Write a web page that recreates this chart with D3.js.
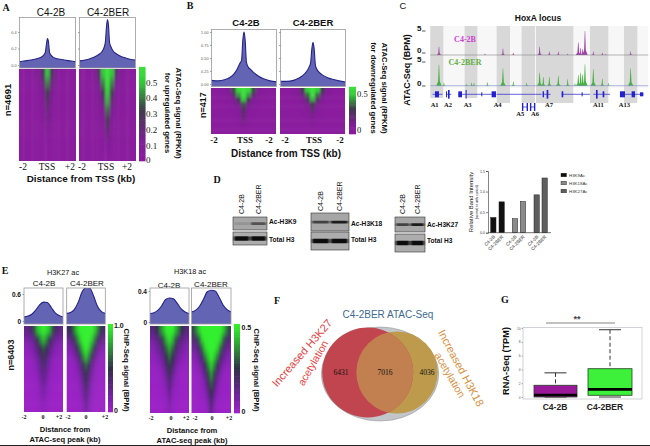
<!DOCTYPE html>
<html><head><meta charset="utf-8">
<script src="https://cdn.jsdelivr.net/npm/d3@7"></script>
<style>html,body{margin:0;padding:0;background:#fff;overflow:hidden}svg{display:block}</style>
</head><body>
<script>
// ---------- DATA ----------
const samples = ["C4-2B", "C4-2BER"];
// TSS profile panels (A, B)
const tssPos = [-2,-1.6,-1.2,-0.9,-0.6,-0.4,-0.25,-0.15,-0.07,0,0.07,0.15,0.25,0.4,0.6,0.9,1.2,1.6,2];
const profA1 = [.04,.05,.06,.07,.085,.10,.125,.16,.26,.32,.28,.15,.12,.095,.08,.07,.06,.05,.04];
const profA2 = [.05,.06,.08,.10,.13,.16,.21,.28,.47,.55,.48,.27,.22,.17,.14,.11,.09,.07,.06];
const profB1 = [.07,.06,.08,.12,.20,.30,.40,.46,.85,1.0,.85,.42,.33,.28,.22,.15,.10,.06,.04];
const profB2 = [.05,.05,.07,.11,.17,.24,.32,.40,.68,.80,.68,.36,.28,.22,.17,.12,.09,.06,.04];
// ATAC-peak profile panels (E)
const peakPos = [-2,-1.6,-1.2,-0.8,-0.4,0,0.4,0.8,1.2,1.6,2];
const profE1 = [.09,.11,.15,.24,.36,.42,.41,.30,.18,.12,.09];
const profE2 = [.17,.19,.26,.42,.65,.74,.73,.55,.32,.21,.17];
const profE3 = [.11,.12,.15,.21,.29,.31,.30,.24,.17,.13,.11];
const profE4 = [.13,.15,.20,.29,.39,.41,.40,.32,.22,.16,.13];
// Heat maps: % of colour-bar maximum; rows top to bottom, columns from centre to edge
const heatOffsets = [0,0.33,0.67,1,1.33,1.67,2];
const heatA1 = [[85,45,18,8,5,3,2],[70,32,10,5,3,2,2],[55,20,6,3,2,2,1],[40,12,4,2,2,1,1],[30,8,3,2,1,1,1],[24,6,2,1,1,1,1],[16,4,2,1,1,1,1],[8,3,1,1,1,1,1],[4,2,1,1,1,1,1],[2,1,1,1,1,1,1]];
const heatA2 = [[100,85,40,12,6,4,3],[100,70,25,8,5,3,2],[90,50,15,6,3,2,2],[80,32,10,4,2,2,1],[65,20,6,3,2,1,1],[50,12,4,2,1,1,1],[36,8,3,1,1,1,1],[24,5,2,1,1,1,1],[14,3,1,1,1,1,1],[6,2,1,1,1,1,1]];
const heatB1 = [[100,95,60,20,8,4,3],[100,75,35,12,6,3,2],[85,50,20,8,4,3,2],[60,25,10,5,3,2,2],[45,14,5,3,2,2,1],[35,8,3,2,2,1,1],[30,6,3,2,1,1,1],[22,4,2,1,1,1,1],[10,3,2,1,1,1,1],[3,2,1,1,1,1,1]];
const heatB2 = [[100,88,50,16,7,4,3],[100,65,28,10,5,3,2],[80,42,16,6,4,3,2],[55,22,9,4,3,2,2],[38,12,5,3,2,2,1],[26,7,3,2,2,1,1],[18,5,2,2,1,1,1],[10,3,2,1,1,1,1],[5,2,1,1,1,1,1],[2,1,1,1,1,1,1]];
const heatE1 = [[100,95,85,60,40,32,28],[85,72,50,32,22,18,16],[60,48,32,20,12,9,7],[45,36,22,12,7,5,4],[35,26,14,7,4,3,2],[28,20,9,4,3,2,2],[22,14,6,3,2,1,1],[15,9,4,2,1,1,1],[10,6,3,1,1,1,1],[6,4,2,1,1,1,1]];
const heatE2 = [[100,100,100,90,70,50,42],[100,100,90,68,45,32,25],[100,90,68,45,25,16,12],[88,70,45,25,12,7,5],[62,46,25,12,6,4,3],[48,34,16,7,4,3,2],[40,26,10,4,3,2,2],[34,18,7,3,2,1,1],[26,12,4,2,1,1,1],[18,8,3,1,1,1,1]];
const heatE3 = [[100,100,85,70,50,38,30],[95,85,60,40,30,22,18],[80,65,42,28,20,14,10],[65,50,30,18,12,8,6],[52,38,20,10,6,4,3],[42,26,12,5,3,3,2],[32,16,7,4,2,2,2],[24,10,4,2,2,1,1],[16,6,3,2,1,1,1],[10,4,2,1,1,1,1]];
const heatE4 = [[100,100,100,100,90,70,55],[100,100,100,92,62,42,35],[100,100,92,65,40,26,20],[100,90,70,42,24,14,10],[90,72,48,24,12,8,5],[75,55,30,14,6,4,3],[62,40,18,7,4,3,2],[50,28,10,4,3,2,2],[40,16,5,3,2,1,1],[30,8,3,2,1,1,1]];
// Panel C: locus positions, BPM heights
const locusBands = [[121,160,98],[224,262,98],[320,360,103],[395,435,103],[438,550,103],[600,655,103],[702,742,103]];
const peaks2B = [[147,1.9],[285,.3],[339,1.5],[370,.5],[449,1.9],[478,.8],[505,.8],[533,.3],[565,2.9],[572,1.6],[578,1.4],[585,5.6],[610,.8],[637,.5],[647,.2],[722,.8]];
const peaksBER = [[147,4.9],[162,.7],[230,.4],[245,.7],[252,.6],[292,.8],[339,4],[370,1],[410,.7],[449,3],[460,2],[478,2],[505,2.3],[533,1.5],[555,.5],[565,2.5],[572,3],[578,2.6],[585,5],[610,3.8],[637,1.6],[655,.6],[722,4]];
const geneLines = [[128,158],[168,184],[205,315],[320,455],[458,482],[515,600],[610,660],[690,760]];
const geneExons = [[135,12,18],[168,3,18],[174,5,26],[205,11,18],[227,3,26],[274,3,12],[305,13,18],[458,4,18],[470,5,26],[515,5,18],[575,3,12],[618,5,26],[638,5,18],[690,15,18],[725,10,18],[750,10,12]];
const geneNames = ["A1","A2","A3","A4","A7","A11","A13"];
const geneNameX = [134,174,233,323,477,625,703];
const geneNames2 = ["A5","A6"];
const geneName2X = [391,435];
const geneLower = [[398,412],[422,434]];
// Panel D
const blotLanes = ["C4-2B","C4-2BER"];
const blotK9 = [.12,.55];
const blotK18 = [.65,.9];
const blotK27 = [.65,.9];
const blotH3 = [1,1];
const barLabels = ["C4-2B","C4-2BER","C4-2B","C4-2BER","C4-2B","C4-2BER"];
const barValues = [.37,.75,.34,.76,.92,1.33];
const barGroup = [0,0,1,1,2,2];
const barTicks = [0,0.5,1.0,1.5];
const marks = ["H3K9Ac","H3K18Ac","H3K27Ac"];
// Panel F
const vennCounts = [6431,7016,4036];
// Panel G
const boxLabels = ["C4-2B","C4-2BER"];
const boxQ1 = [0,.25];
const boxMed = [.3,1.1];
const boxQ3 = [1.7,4.1];
const boxLo = [0,0];
const boxHi = [3.5,9.75];
const boxFill = ["#9a189a","#3df03a"];
const boxTicks = [0,2,4,6,8,10];

// ---------- HELPERS ----------
const W = 650, H = 446;
const svg = d3.select("body").append("svg").attr("width",W).attr("height",H).attr("viewBox",`0 0 ${W} ${H}`);
const defs = svg.append("defs");
const SANS = "'Liberation Sans',Arial,sans-serif", SERIF = "'Liberation Serif',serif";
function t(x,y,s,o={}){
  const el = svg.append("text").attr("x",0).attr("y",0).attr("dy",".35em")
   .attr("transform",`translate(${x},${y}) rotate(${o.rot||0})`)
   .attr("font-family",o.family||SANS).attr("font-size",o.size||8)
   .attr("font-weight",o.weight||"normal").attr("text-anchor",o.anchor||"middle")
   .attr("fill",o.fill||"#111").text(s);
  return el;
}
let clipId = 0;
function clip(x,y,w,h){
  const id = "c"+(clipId++);
  defs.append("clipPath").attr("id",id).append("rect").attr("x",x).attr("y",y).attr("width",w).attr("height",h);
  return `url(#${id})`;
}
function blurFilter(id,sx,sy){
  defs.append("filter").attr("id",id).attr("x","-20%").attr("y","-20%").attr("width","140%").attr("height","140%")
    .append("feGaussianBlur").attr("stdDeviation",`${sx} ${sy}`);
}
blurFilter("heatBlurA",1.2,3.2);
blurFilter("heatBlurB",1.3,1.6);
blurFilter("heatBlurE",1.1,3.2);
blurFilter("band",0.8,0.6);

function profile(xs,vals,box,yDomain,yRange,ticks,fmt,labelled,tickFont){
  const x = d3.scaleLinear().domain([-2,2]).range([box.x,box.x+box.w]);
  const y = d3.scaleLinear().domain(yDomain).range(yRange);
  const pts = xs.map((d,i)=>[d,vals[i]]);
  const g = svg.append("g").attr("clip-path",clip(box.x,box.y,box.w,box.h));
  g.append("path").attr("d",d3.area().x(d=>x(d[0])).y0(box.y+box.h).y1(d=>y(d[1])).curve(d3.curveMonotoneX)(pts)).attr("fill","#6464b4");
  g.append("path").attr("d",d3.line().x(d=>x(d[0])).y(d=>y(d[1])).curve(d3.curveMonotoneX)(pts)).attr("fill","none").attr("stroke","#23238a").attr("stroke-width",1.1);
  svg.append("rect").attr("x",box.x).attr("y",box.y).attr("width",box.w).attr("height",box.h).attr("fill","none").attr("stroke","#9a9a9a").attr("stroke-width",.8);
  const ax = svg.append("g").attr("transform",`translate(${box.x},0)`)
    .call(d3.axisLeft(y).tickValues(ticks).tickFormat(labelled?fmt:"").tickSize(1.5).tickPadding(1.5));
  ax.select(".domain").remove();
  ax.selectAll("line").attr("stroke","#555").attr("stroke-width",.5);
  ax.selectAll("text").attr("font-family",tickFont?tickFont.family:SANS).attr("font-size",tickFont?tickFont.size:3.8)
    .attr("font-weight",tickFont?tickFont.weight:"normal").attr("fill",tickFont?"#111":"#555");
}
function heat(matrix,box,colour,filter){
  const mirrored = heatOffsets.slice(1).reverse().map(d=>-d).concat(heatOffsets);
  const colIdx = mirrored.map(d=>Math.abs(d));
  const x = d3.scaleBand().domain(d3.range(mirrored.length)).range([box.x,box.x+box.w]);
  const y = d3.scaleBand().domain(d3.range(matrix.length)).range([box.y,box.y+box.h]);
  const g = svg.append("g").attr("clip-path",clip(box.x,box.y,box.w,box.h)).append("g").attr("filter",`url(#${filter})`);
  const ext = 8;
  matrix.forEach((row,r)=>{
    g.selectAll(null).data(mirrored).enter().append("rect")
      .attr("x",(d,i)=>x(i)-(i===0?ext:0))
      .attr("y",y(r)-(r===0?ext:0))
      .attr("width",(d,i)=>x.bandwidth()+.4+((i===0||i===mirrored.length-1)?ext:0))
      .attr("height",y.bandwidth()+.4+((r===0||r===matrix.length-1)?ext:0))
      .attr("fill",(d,i)=>colour(row[heatOffsets.indexOf(colIdx[i])]));
  });
}
function colourBar(box,colour){
  const lvls = d3.range(0,101,2);
  const y = d3.scaleLinear().domain([0,100]).range([box.y+box.h,box.y]);
  svg.append("g").selectAll("rect").data(lvls).enter().append("rect")
    .attr("x",box.x).attr("width",box.w).attr("y",d=>y(d)-box.h/50-.3).attr("height",box.h/50+.6).attr("fill",d=>colour(d));
}
const colourAB = d3.scaleLinear().domain([0,20,55,85,100]).range(["#8b1a9e","#7f1f96","#3f3c4a","#35c83a","#3ce03c"]).clamp(true);
const colourE = d3.scaleLinear().domain([0,15,50,88,100]).range(["#9e20c8","#7a20a8","#2f3048","#2ec82e","#33f02e"]).clamp(true);

// ---------- PANEL A ----------
t(6,7,"A",{family:SERIF,weight:"bold",size:10});
t(51,12,samples[0],{size:10});t(108,12,samples[1],{size:10});
const boxA = [{x:19.5,y:17.5,w:56,h:50.5},{x:79.5,y:17.5,w:56,h:50.5}];
profile(tssPos,profA1,boxA[0],[0,.4],[65,32],[0,.2,.4],d3.format(".1f"),true);
profile(tssPos,profA2,boxA[1],[0,.4],[65,32],[0,.2,.4],d3.format(".1f"),false);
heat(heatA1,{x:19,y:69,w:57,h:92},colourAB,"heatBlurA");
heat(heatA2,{x:79,y:69,w:57,h:92},colourAB,"heatBlurA");
colourBar({x:139,y:69,w:6.5,h:92},colourAB);
[["0.5",83],["0.4",98],["0.3",114],["0.2",130],["0.1",146],["0",160]].forEach(d=>t(146,d[1],d[0],{family:SERIF,size:9,anchor:"start"}));
t(179,113,"ATAC-Seq signal (RPKM)",{rot:90,size:7.7,weight:"bold"});
t(168,113,"for upregulated genes",{rot:90,size:7.7,weight:"bold"});
t(8,100,"n=4691",{rot:-90,size:9.5,weight:"bold"});
[[23,"-2"],[47,"TSS"],[70,"+2"],[82,"-2"],[106,"TSS"],[127,"+2"]].forEach(d=>t(d[0],167,d[1],{family:SERIF,size:9.5}));
t(81,179,"Distance from TSS (kb)",{size:9.9,weight:"bold"});

// ---------- PANEL B ----------
t(190,5,"B",{family:SERIF,weight:"bold",size:10});
t(246,23,samples[0],{size:9.5,weight:"bold"}); t(313,23,samples[1],{size:9.5,weight:"bold"});
const boxB = [{x:211.5,y:29.5,w:65,h:57},{x:280.5,y:29.5,w:65,h:57}];
profile(tssPos,profB1,boxB[0],[0,1],[84,32],[0,.25,.5,.75,1],d3.format(".2f"),true);
profile(tssPos,profB2,boxB[1],[0,1],[84,32],[0,.25,.5,.75,1],d3.format(".2f"),false);
heat(heatB1,{x:211,y:88,w:65,h:46},colourAB,"heatBlurB");
heat(heatB2,{x:280,y:88,w:65,h:46},colourAB,"heatBlurB");
colourBar({x:349,y:88,w:7,h:46},colourAB);
t(357,94,"0.5",{family:SERIF,size:8.5,anchor:"start"}); t(357,130,"0",{family:SERIF,size:8.5,anchor:"start"});
t(385,88,"ATAC-Seq signal (RPKM)",{rot:90,size:7.7,weight:"bold"});
t(374,88,"for downregulated genes",{rot:90,size:7.7,weight:"bold"});
t(203,105,"n=417",{rot:-90,size:9,weight:"bold"});
[[214,"-2"],[245,"TSS"],[269,"-2"],[285,"-2"],[314,"TSS"],[340,"-2"]].forEach(d=>t(d[0],140,d[1],{family:SERIF,size:9,weight:"bold"}));
t(286,153,"Distance from TSS (kb)",{size:10,weight:"bold"});

// ---------- PANEL C ----------
t(403,6,"C",{size:9.5});
t(538,18,"HoxA locus",{size:8.5,weight:"bold"});
const locus = d3.scaleLinear().domain([121,775]).range([430.3,648.3]);
svg.append("rect").attr("x",locus(121)).attr("y",26).attr("width",locus(775)-locus(121)).attr("height",62).attr("fill","#f7f7f7");
svg.append("g").selectAll("rect").data(locusBands).enter().append("rect")
  .attr("x",d=>locus(d[0])).attr("width",d=>locus(d[1])-locus(d[0])).attr("y",26).attr("height",d=>d[2]-26).attr("fill","#d8d8d8");
function track(peaks,base,col,lineCol){
  const y = d3.scaleLinear().domain([0,5]).range([base,base-21.5]);
  const g = svg.append("g");
  g.selectAll("path").data(peaks).enter().append("path").attr("fill",col)
    .attr("d",d=>{
      const a = d3.area().x(p=>locus(p[0])).y0(base).y1(p=>y(p[1]));
      const w = 1.6+Math.min(d[1],3)*.7;
      return a([[d[0]-w*2.2,0],[d[0]-w*.7,d[1]*.2],[d[0]-.6,d[1]],[d[0]+.6,d[1]],[d[0]+w*.7,d[1]*.2],[d[0]+w*2.2,0]]);
    });
  g.append("line").attr("x1",locus(121)).attr("x2",locus(775)).attr("y1",base).attr("y2",base).attr("stroke",lineCol).attr("stroke-width",.6);
}
track(peaks2B,55,"#a040a8","#888");
track(peaksBER,85.7,"#46b040","#7a88c8");
t(465,39,samples[0],{family:SERIF,weight:"bold",size:8,fill:"#d040d8"});
t(465,62,samples[1],{family:SERIF,weight:"bold",size:8,fill:"#62b045"});
[["5",28],["0",50],["5",59],["0",83]].forEach(d=>{
  t(421.5,d[1],d[0],{size:8,weight:"bold",anchor:"end"});
  svg.append("line").attr("x1",422).attr("x2",425.5).attr("y1",d[1]+3).attr("y2",d[1]+3).attr("stroke","#111").attr("stroke-width",.7);
});
t(407,70,"ATAC-Seq (BPM)",{rot:-90,size:9,weight:"bold"});
const geneBlue = "#2222d0";
svg.append("g").selectAll("line").data(geneLines).enter().append("line")
  .attr("x1",d=>locus(d[0])).attr("x2",d=>locus(d[1])).attr("y1",94.3).attr("y2",94.3).attr("stroke",geneBlue).attr("stroke-width",.7);
svg.append("g").selectAll("rect").data(geneExons).enter().append("rect")
  .attr("x",d=>locus(d[0])).attr("width",d=>locus(d[0]+d[1])-locus(d[0])).attr("y",d=>94.3-d[2]/6).attr("height",d=>d[2]/3).attr("fill",geneBlue);
geneLower.forEach(d=>{
  svg.append("line").attr("x1",locus(d[0])).attr("x2",locus(d[1])).attr("y1",107).attr("y2",107).attr("stroke",geneBlue).attr("stroke-width",.7);
  d.forEach(v=>svg.append("rect").attr("x",locus(v)-.7).attr("width",1.4).attr("y",103).attr("height",8).attr("fill",geneBlue));
});
geneNames.forEach((n,i)=>t(locus(geneNameX[i]),105,n,{family:SERIF,size:6.5,weight:"bold"}));
geneNames2.forEach((n,i)=>t(locus(geneName2X[i]),114,n,{family:SERIF,size:6.5,weight:"bold"}));

// ---------- PANEL D ----------
t(217,179,"D",{family:SERIF,weight:"bold",size:10});
function blot(b,topVals,name,tyLabel,h3Label){
  const x = d3.scaleBand().domain(blotLanes).range([b.x,b.x+b.w]).paddingInner(.08).paddingOuter(.06);
  blotLanes.forEach(l=>t(x(l)+x.bandwidth()/2,b.labelY,l,{rot:-90,anchor:"start",size:7}));
  svg.append("rect").attr("x",b.x).attr("y",b.y1).attr("width",b.w).attr("height",b.h1).attr("fill","#a6a6a6").attr("stroke","#333").attr("stroke-width",.6);
  svg.append("rect").attr("x",b.x).attr("y",b.y2).attr("width",b.w).attr("height",b.h2).attr("fill","#adadad").attr("stroke","#333").attr("stroke-width",.6);
  const shade = d3.scaleLinear().domain([0,1]).range(["#a6a6a6","#0c0c0c"]);
  svg.append("g").attr("filter","url(#band)").selectAll("rect").data(topVals).enter().append("rect")
    .attr("x",(d,i)=>x(blotLanes[i])).attr("width",x.bandwidth()).attr("y",b.y1+b.h1/2-1.2).attr("height",2.6).attr("rx",1).attr("fill",d=>shade(d));
  svg.append("g").attr("filter","url(#band)").selectAll("rect").data(blotH3).enter().append("rect")
    .attr("x",(d,i)=>x(blotLanes[i])).attr("width",x.bandwidth()).attr("y",b.y2+b.h2/2-2.3).attr("height",4.6).attr("rx",1).attr("fill",d=>shade(d));
  t(b.x+b.w+2,tyLabel,name,{anchor:"start",size:6.6,weight:"bold"});
  t(b.x+b.w+2,h3Label,"Total H3",{anchor:"start",size:6.6,weight:"bold"});
}
blot({x:233,w:34,y1:217,h1:13,y2:232,h2:13,labelY:214},blotK9,"Ac-H3K9",222,240);
blot({x:311,w:38,y1:213,h1:18,y2:232,h2:18,labelY:211},blotK18,"Ac-H3K18",224,240);
blot({x:395,w:30,y1:217,h1:15,y2:234,h2:18,labelY:214},blotK27,"Ac-H3K27",225,241);

const barLeft = [490.7,499,512.3,520.3,534,542];
const barY = d3.scaleLinear().domain([0,1.5]).range([232.7,171]);
const groupFill = ["#111","#8a8a8a","#5e5e5e"];
svg.append("g").selectAll("rect").data(barValues).enter().append("rect")
  .attr("x",(d,i)=>barLeft[i]).attr("width",5.3).attr("y",d=>barY(d)).attr("height",d=>barY(0)-barY(d))
  .attr("fill",(d,i)=>groupFill[barGroup[i]]).attr("stroke","#222").attr("stroke-width",.5);
const barAxis = svg.append("g").attr("transform","translate(488,0)").call(d3.axisLeft(barY).tickValues(barTicks).tickFormat(d3.format(".1f")).tickSize(2).tickPadding(1));
barAxis.selectAll("text").attr("font-size",3.6).attr("font-family",SANS).attr("fill","#333");
barAxis.selectAll("line,path").attr("stroke","#333").attr("stroke-width",.6);
svg.append("line").attr("x1",488).attr("x2",551).attr("y1",232.7).attr("y2",232.7).attr("stroke","#333").attr("stroke-width",.7);
barLabels.forEach((l,i)=>t(barLeft[i]+3.5,236,l,{rot:-45,anchor:"end",size:4.6,fill:"#222"}));
t(471,202,"Relative Band Intensity",{rot:-90,size:5.9,fill:"#222"});
t(477,202,"(normal to with control)",{rot:-90,size:3.4});
marks.forEach((m,i)=>{
  const y = 175+i*8;
  svg.append("rect").attr("x",561).attr("y",y-1.8).attr("width",5.5).attr("height",3.6).attr("fill",groupFill[i]).attr("stroke","#222").attr("stroke-width",.4);
  t(569,y,m,{anchor:"start",size:4.4,fill:"#333"});
});

// ---------- PANEL E ----------
t(5,270,"E",{family:SERIF,weight:"bold",size:10});
t(63,272,"H3K27 ac",{size:7.3}); t(190,271.5,"H3K18 ac",{size:7.3});
t(44,283,samples[0],{size:8}); t(87,283,samples[1],{size:8});
t(169,285,samples[0],{size:8}); t(211,284,samples[1],{size:8});
const tf = {family:SANS,size:6.5,weight:"bold"};
const boxE = [{x:24,y:288,w:39,h:36},{x:66.7,y:288,w:38.6,h:36},{x:150,y:288,w:39,h:36},{x:191.5,y:288,w:39.5,h:36}];
profile(peakPos,profE1,boxE[0],[0,.6],[321,294],[0,.6],d3.format(".1~f"),true,tf);
profile(peakPos,profE2,boxE[1],[0,.6],[321,294],[],d3.format(".1~f"),false);
profile(peakPos,profE3,boxE[2],[0,.4],[322,291],[0,.4],d3.format(".1~f"),true,tf);
profile(peakPos,profE4,boxE[3],[0,.4],[322,291],[],d3.format(".1~f"),false);
heat(heatE1,{x:24,y:326,w:39,h:86},colourE,"heatBlurE");
heat(heatE2,{x:66.7,y:326,w:38.6,h:86},colourE,"heatBlurE");
heat(heatE3,{x:150,y:326,w:39,h:87},colourE,"heatBlurE");
heat(heatE4,{x:191.5,y:326,w:39.5,h:87},colourE,"heatBlurE");
colourBar({x:108,y:326,w:5,h:86},colourE);
colourBar({x:234,y:326,w:6,h:87},colourE);
t(114,326,"1.0",{anchor:"start",size:7,weight:"bold"}); t(114,411,"0",{anchor:"start",size:7,weight:"bold"});
t(241.5,328,"0.5",{anchor:"start",size:7,weight:"bold"}); t(241.5,412,"0",{anchor:"start",size:7,weight:"bold"});
t(127,370,"ChIP-Seq signal (BPM)",{rot:90,size:7.7,weight:"bold"});
t(257,370,"ChIP-Seq signal (BPM)",{rot:90,size:7.7,weight:"bold"});
t(11,355,"n=6403",{rot:-90,size:9,weight:"bold"});
[[24,"-2"],[43,"0"],[59,"+2"],[68,"-2"],[86,"0"],[105,"+2"]].forEach(d=>t(d[0],417,d[1],{family:SERIF,size:6,weight:"bold"}));
[[151,"-2"],[171,"0"],[186,"+2"],[195,"-2"],[212,"0"],[229,"+2"]].forEach(d=>t(d[0],418,d[1],{family:SERIF,size:6,weight:"bold"}));
t(65,429.5,"Distance from",{size:7.6,weight:"bold"}); t(65,439,"ATAC-seq peak (kb)",{size:7.6,weight:"bold"});
t(192,430,"Distance from",{size:7.6,weight:"bold"}); t(192,440,"ATAC-seq peak (kb)",{size:7.6,weight:"bold"});

// ---------- PANEL F ----------
t(277,300,"F",{family:SERIF,weight:"bold",size:10});
t(388,314,"C4-2BER ATAC-Seq",{size:10,fill:"#3e6a92"});
svg.append("ellipse").attr("cx",380).attr("cy",374).attr("rx",58.7).attr("ry",47).attr("fill","#c2c6ca").attr("stroke","#8a8e92").attr("stroke-width",.5);
svg.append("ellipse").attr("cx",397).attr("cy",372.5).attr("rx",40.7).attr("ry",41).attr("fill","#bd9a4c");
svg.append("ellipse").attr("cx",367.7).attr("cy",372.5).attr("rx",45.5).attr("ry",45).attr("fill","#c1454f");
defs.append("clipPath").attr("id","redClip").append("ellipse").attr("cx",367.7).attr("cy",372.5).attr("rx",45.5).attr("ry",45);
svg.append("ellipse").attr("clip-path","url(#redClip)").attr("cx",397).attr("cy",372.5).attr("rx",40.7).attr("ry",41).attr("fill","#c28050");
[341,385,427].forEach((x,i)=>t(x,372,vennCounts[i],{family:SERIF,size:7.5}));
t(302,353,"Increased H3K27",{rot:-49,size:11,fill:"#e84040"});
t(313,363,"acetylation",{rot:-60,size:10.5,fill:"#e84040"});
t(461,368,"Increased H3K18",{rot:62,size:11,fill:"#d89040"});
t(450,375,"acetylation",{rot:60,size:10.5,fill:"#d89040"});

// ---------- PANEL G ----------
t(505,299,"G",{family:SERIF,weight:"bold",size:10});
const gy = d3.scaleLinear().domain([0,10]).range([397,328]);
const gx = d3.scalePoint().domain(boxLabels).range([555.5,610]);
svg.append("rect").attr("x",523).attr("y",327.5).attr("width",119).attr("height",71.5).attr("fill","none").attr("stroke","#c8c8d0").attr("stroke-width",.8);
const gAxis = svg.append("g").attr("transform","translate(523,0)").call(d3.axisLeft(gy).tickValues(boxTicks).tickSize(1.5).tickPadding(1));
gAxis.select(".domain").remove();
gAxis.selectAll("text").attr("font-size",3.2).attr("font-family",SANS).attr("fill","#555");
gAxis.selectAll("line").attr("stroke","#666").attr("stroke-width",.5);
boxLabels.forEach((l,i)=>{
  const cx = gx(l), hw = i===0?21.5:22;
  svg.append("line").attr("x1",cx).attr("x2",cx).attr("y1",gy(boxHi[i])).attr("y2",gy(boxQ3[i])).attr("stroke","#333").attr("stroke-width",1).attr("stroke-dasharray","4 2.5");
  svg.append("line").attr("x1",cx-11).attr("x2",cx+11).attr("y1",gy(boxHi[i])).attr("y2",gy(boxHi[i])).attr("stroke","#333").attr("stroke-width",1);
  svg.append("line").attr("x1",cx-11).attr("x2",cx+11).attr("y1",gy(boxLo[i])).attr("y2",gy(boxLo[i])).attr("stroke","#333").attr("stroke-width",1);
  svg.append("rect").attr("x",cx-hw).attr("width",hw*2).attr("y",gy(boxQ3[i])).attr("height",gy(boxQ1[i])-gy(boxQ3[i])).attr("fill",boxFill[i]).attr("stroke","#224022").attr("stroke-width",.8);
  svg.append("line").attr("x1",cx-hw).attr("x2",cx+hw).attr("y1",gy(boxMed[i])).attr("y2",gy(boxMed[i])).attr("stroke","#000").attr("stroke-width",2.6);
  t(i===0?555:605,407,l,{size:8.5,weight:"bold",fill:"#222"});
});
t(506,361,"RNA-Seq (TPM)",{rot:-90,size:9.2,weight:"bold"});
svg.append("line").attr("x1",546).attr("x2",615).attr("y1",323).attr("y2",323).attr("stroke","#666").attr("stroke-width",.8);
t(577,319,"**",{size:9,weight:"bold",fill:"#444"});

// Bottom rule of the photographed page
svg.append("line").attr("x1",0).attr("x2",W).attr("y1",445.5).attr("y2",445.5).attr("stroke","#222").attr("stroke-width",1);
</script>
</body></html>
